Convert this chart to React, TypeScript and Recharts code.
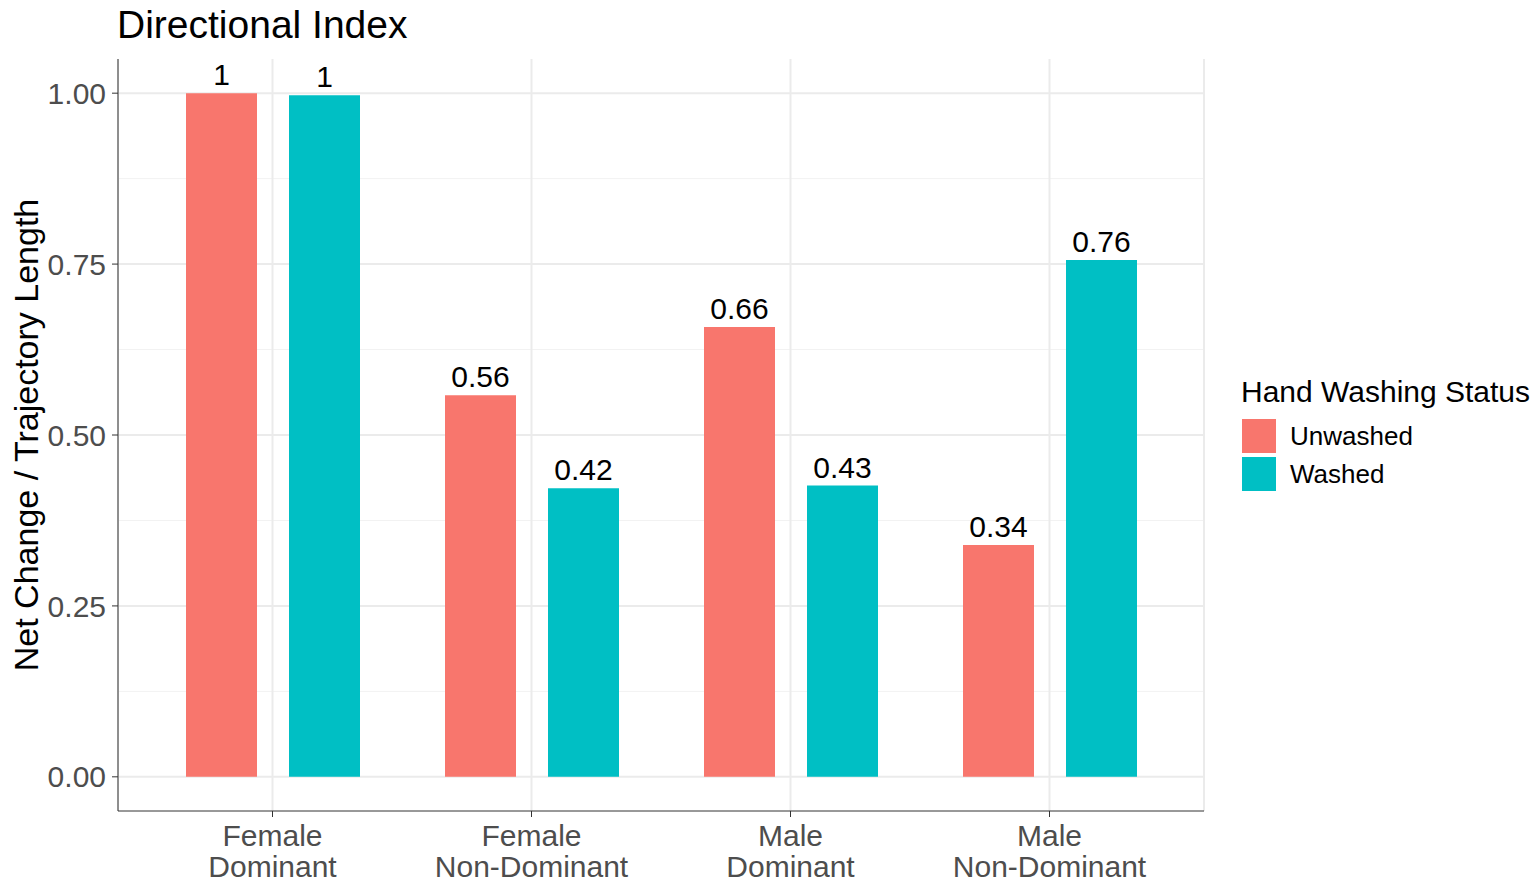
import { BarChart, Bar, XAxis, YAxis, CartesianGrid, LabelList } from "recharts";

const groups = ["Female\nDominant", "Female\nNon-Dominant", "Male\nDominant", "Male\nNon-Dominant"];
const unwashed = [1.0, 0.558, 0.658, 0.339];
const washed = [0.997, 0.422, 0.426, 0.756];
const yTicks = [0, 0.25, 0.5, 0.75, 1];
const minorTicks = [0.125, 0.375, 0.625, 0.875];

const data = groups.map((g, i) => ({ group: g, Unwashed: unwashed[i], Washed: washed[i] }));

const FONT = "'Liberation Sans', Arial, sans-serif";
const RED = "#F8766D";
const TEAL = "#00BFC4";

const fmt = (v: any) => String(Math.round(Number(v) * 100) / 100);

function GroupTick(props: any) {
  const { x, y, payload } = props;
  const lines = String(payload.value).split("\n");
  return (
    <text x={x} y={y} textAnchor="middle" fill="#4D4D4D" fontSize={30} fontFamily={FONT}>
      {lines.map((l, i) => (
        <tspan key={i} x={x} dy={i === 0 ? 27 : 31}>
          {l}
        </tspan>
      ))}
    </text>
  );
}

export default function App() {
  return (
    <div style={{ position: "absolute", left: 0, top: 0, width: 1540, height: 886, background: "#fff", fontFamily: FONT }}>
      <div style={{ position: "absolute", left: 117, top: 3, fontSize: 39, color: "#000", whiteSpace: "nowrap" }}>Directional Index</div>
      <div
        style={{
          position: "absolute",
          left: 26,
          top: 435,
          transform: "translate(-50%, -50%) rotate(-90deg)",
          fontSize: 34,
          whiteSpace: "nowrap",
          color: "#000",
        }}
      >
        Net Change / Trajectory Length
      </div>
      <BarChart
        width={1540}
        height={886}
        data={data}
        margin={{ top: 59, right: 336, bottom: 0, left: 0 }}
        barSize={71}
        barGap={32}
      >
        <CartesianGrid horizontalValues={minorTicks} vertical={false} stroke="#F2F2F2" strokeWidth={1} />
        <CartesianGrid horizontalValues={yTicks} stroke="#EBEBEB" strokeWidth={2} />
        <XAxis
          dataKey="group"
          height={75}
          padding={{ left: 25, right: 25 }}
          tick={<GroupTick />}
          tickSize={6}
          tickLine={{ stroke: "#333333" }}
          axisLine={{ stroke: "#333333" }}
          interval={0}
        />
        <XAxis xAxisId="top" dataKey="group" orientation="top" height={0} tick={false} tickLine={false} axisLine={{ stroke: "#333333" }} />
        <YAxis
          domain={[-0.05, 1.05]}
          ticks={yTicks}
          width={118}
          tickFormatter={(v) => Number(v).toFixed(2)}
          tick={{ fill: "#4D4D4D", fontSize: 30, fontFamily: FONT }}
          tickSize={6}
          tickMargin={6}
          tickLine={{ stroke: "#333333" }}
          axisLine={{ stroke: "#333333" }}
          allowDataOverflow
        />
        <YAxis yAxisId="right" orientation="right" width={0} tick={false} tickLine={false} axisLine={{ stroke: "#333333" }} />
        <Bar dataKey="Unwashed" fill={RED} isAnimationActive={false}>
          <LabelList dataKey="Unwashed" position="top" offset={8} formatter={fmt} fill="#000" fontSize={30} fontFamily={FONT} />
        </Bar>
        <Bar dataKey="Washed" fill={TEAL} isAnimationActive={false}>
          <LabelList dataKey="Washed" position="top" offset={8} formatter={fmt} fill="#000" fontSize={30} fontFamily={FONT} />
        </Bar>
      </BarChart>
      <div style={{ position: "absolute", left: 1241, top: 375, fontSize: 30, color: "#000", whiteSpace: "nowrap" }}>
        Hand Washing Status
      </div>
      {[
        ["Unwashed", RED],
        ["Washed", TEAL],
      ].map(([name, color], i) => (
        <div key={name} style={{ position: "absolute", left: 1242, top: 419 + i * 38, height: 34, display: "flex", alignItems: "center" }}>
          <div style={{ width: 34, height: 34, background: color }} />
          <span style={{ marginLeft: 14, fontSize: 26, color: "#000", whiteSpace: "nowrap" }}>{name}</span>
        </div>
      ))}
    </div>
  );
}
